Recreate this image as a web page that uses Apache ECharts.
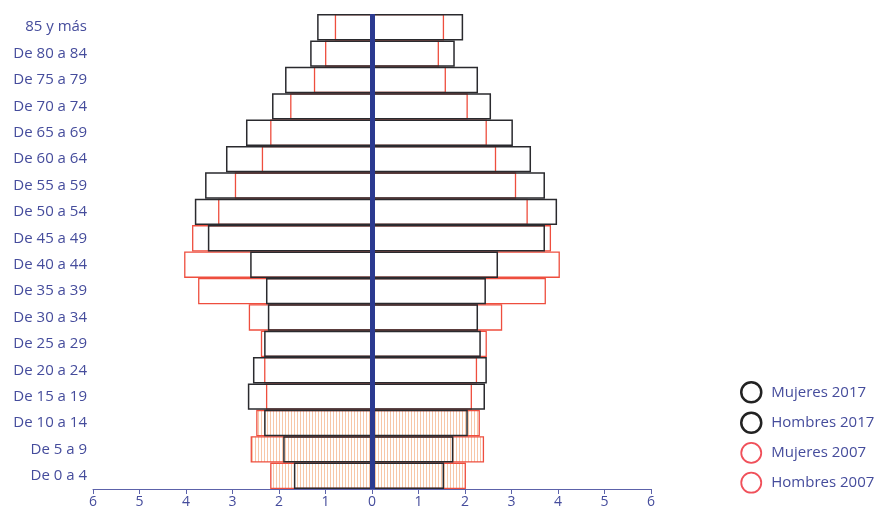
<!DOCTYPE html>
<html><head><meta charset="utf-8">
<script src="https://cdn.jsdelivr.net/npm/echarts@6/dist/echarts.min.js"></script>
<style>html,body{margin:0;padding:0;background:#fff}#c{width:876px;height:510px}</style>
</head><body><div id="c"></div>
<script>
const categories = ["De 0 a 4","De 5 a 9","De 10 a 14","De 15 a 19","De 20 a 24","De 25 a 29","De 30 a 34","De 35 a 39","De 40 a 44","De 45 a 49","De 50 a 54","De 55 a 59","De 60 a 64","De 65 a 69","De 70 a 74","De 75 a 79","De 80 a 84","85 y más"];
const mujeres2017 = [1.55,1.75,2.06,2.43,2.47,2.34,2.28,2.45,2.71,3.72,3.98,3.72,3.42,3.03,2.56,2.28,1.78,1.96];
const hombres2017 = [1.68,1.91,2.32,2.67,2.56,2.32,2.24,2.28,2.62,3.53,3.81,3.59,3.14,2.71,2.15,1.87,1.33,1.18];
const mujeres2007 = [2.02,2.41,2.32,2.15,2.26,2.47,2.80,3.74,4.04,3.85,3.35,3.10,2.67,2.47,2.06,1.59,1.44,1.55];
const hombres2007 = [2.19,2.61,2.49,2.28,2.32,2.39,2.65,3.74,4.04,3.87,3.31,2.95,2.37,2.19,1.76,1.25,1.01,0.80];
const hatchedRows = 3;

const pc = document.createElement('canvas');
pc.width = 3; pc.height = 4;
const px = pc.getContext('2d');
px.fillStyle = '#f7c7a8'; px.fillRect(0,0,1,4);

const txt = '#454c9c';
const font = 'Open Sans';

function redData(arr, sign){
  return arr.map((v,i)=>({value: sign*v, itemStyle: i < hatchedRows ? {color:{image:pc, repeat:'repeat'}} : {}}));
}
const redStyle = {color:'rgba(0,0,0,0)', borderColor:'#ee4e3e', borderWidth:1.3};
const blackStyle = {color:'rgba(0,0,0,0)', borderColor:'#2a2a2e', borderWidth:1.5};

const chart = echarts.init(document.getElementById('c'));
chart.setOption({
  animation:false,
  grid:{left:93, right:225, top:14, bottom:21},
  xAxis:{type:'value', min:-6, max:6, interval:1,
    axisLine:{show:true, onZero:false, lineStyle:{color:'#5c62aa', width:1}},
    axisTick:{show:true, length:5, lineStyle:{color:'#5c62aa'}},
    splitLine:{show:false},
    axisLabel:{color:txt, fontFamily:font, fontSize:14, margin:6, formatter:v=>Math.abs(v)}},
  yAxis:{type:'category', data:categories,
    axisLine:{show:false}, axisTick:{show:false},
    axisLabel:{color:txt, fontFamily:font, fontSize:15, margin:6}},
  legend:{orient:'vertical', left:735, top:376, itemWidth:20, itemHeight:20, itemGap:8, icon:'circle',
    textStyle:{color:txt, fontFamily:font, fontSize:15, padding:[0,0,0,5]},
    data:[
      {name:'Mujeres 2017', itemStyle:{color:'#fff', borderColor:'#222', borderWidth:2.5}},
      {name:'Hombres 2017', itemStyle:{color:'#fff', borderColor:'#222', borderWidth:2.5}},
      {name:'Mujeres 2007', itemStyle:{color:'#fff', borderColor:'#f0505a', borderWidth:1.8}},
      {name:'Hombres 2007', itemStyle:{color:'#fff', borderColor:'#f0505a', borderWidth:1.8}}
    ]},
  series:[
    {name:'Mujeres 2007', type:'bar', data:redData(mujeres2007,1), barGap:'-100%', barCategoryGap:0, itemStyle:redStyle, z:2},
    {name:'Hombres 2007', type:'bar', data:redData(hombres2007,-1), barGap:'-100%', barCategoryGap:0, itemStyle:redStyle, z:2},
    {name:'Mujeres 2017', type:'bar', data:mujeres2017, barGap:'-100%', barCategoryGap:0, itemStyle:blackStyle, z:3},
    {name:'Hombres 2017', type:'bar', data:hombres2017.map(v=>-v), barGap:'-100%', barCategoryGap:0, itemStyle:blackStyle, z:3,
      markLine:{silent:true, symbol:['none','none'], label:{show:false},
        lineStyle:{color:'#2b3a90', width:5, type:'solid'}, data:[{xAxis:0}]}}
  ]
});
</script></body></html>
